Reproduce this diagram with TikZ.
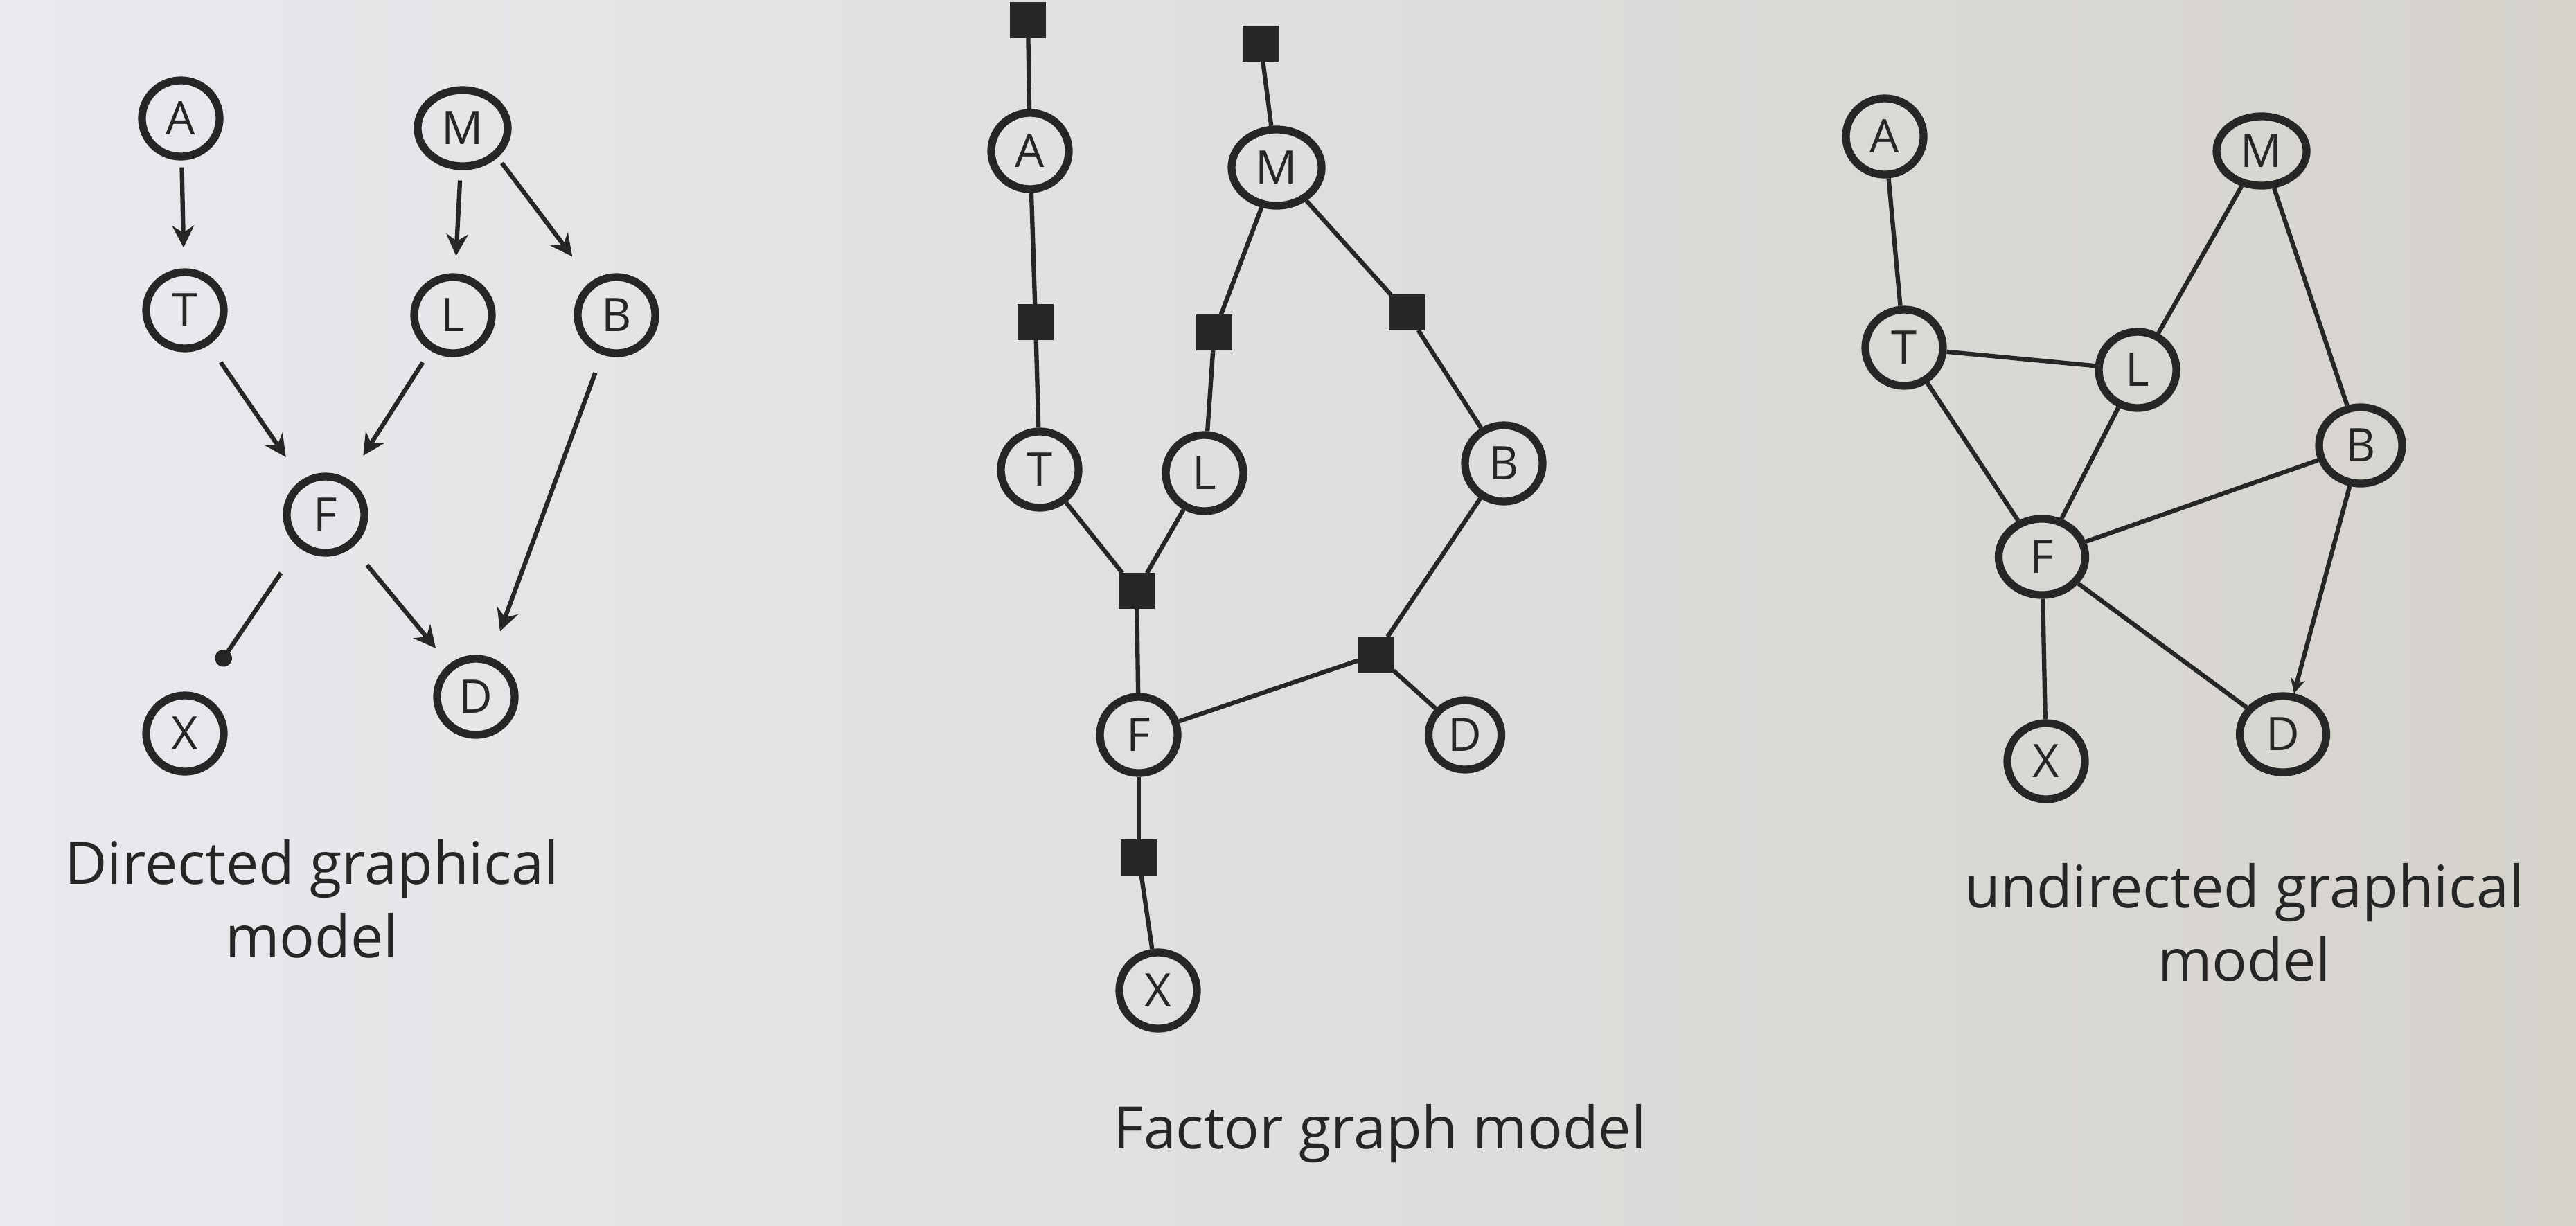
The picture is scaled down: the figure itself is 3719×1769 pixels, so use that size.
\documentclass[tikz,border=0pt]{standalone}
\usepackage{fontspec}
\setmainfont{Open Sans}
\usetikzlibrary{arrows.meta,shapes.geometric}
\definecolor{ink}{HTML}{262626}
\definecolor{paperL}{HTML}{E8EAEE}
\definecolor{paperR}{HTML}{D6D3CD}
\begin{document}
\begin{tikzpicture}[x=0.01cm,y=-0.01cm,
  var/.style={ellipse, draw=ink, line width=3.2pt, minimum width=1.12cm, minimum height=1.1cm, inner sep=0pt, font=\fontsize{19}{19}\selectfont, text=ink},
  fac/.style={rectangle, fill=ink, draw=ink, minimum size=0.5cm, inner sep=0pt},
  edge/.style={draw=ink, line width=1.8pt},
  arr/.style={edge, -{Stealth[length=9pt,width=9pt]}},
  lab/.style={font=\fontsize{24}{30}\selectfont, text=ink, align=center}]
\shade[left color=paperL, right color=paperR] (0,0) rectangle (3719,1769);
\useasboundingbox (0,0) rectangle (3719,1769);

% ---------- directed graphical model ----------
\node[var] (dA) at (261,171) {A};
\node[var, minimum width=1.3cm] (dM) at (668,185) {M};
\node[var] (dT) at (267,448) {T};
\node[var] (dL) at (654,455) {L};
\node[var] (dB) at (890,455) {B};
\node[var] (dF) at (470,743) {F};
\node[var] (dX) at (267,1059) {X};
\node[var] (dD) at (687,1006) {D};
\draw[arr, shorten <=0.1cm, shorten >=0.3cm] (dA) -- (dT);
\draw[arr, shorten <=0.15cm, shorten >=0.25cm] (dM) -- (dL);
\draw[arr, shorten <=0.1cm, shorten >=0.45cm] (dM.-40) -- (dB);
\draw[arr, shorten <=0.3cm, shorten >=0.4cm] (dT) -- (dF);
\draw[arr, shorten <=0.2cm, shorten >=0.4cm] (dL) -- (dF);
\draw[arr, shorten <=0.28cm, shorten >=0.4cm] (dB) -- (dD);
\draw[edge, -{Circle[length=7pt]}, shorten <=0.45cm, shorten >=0.5cm] (dF.230) -- (dX.70);
\draw[arr, shorten <=0.33cm, shorten >=0.3cm] (dF) -- (dD);
\node[lab] (labD) at (450,1298) {Directed graphical\\model};

% ---------- factor graph model ----------
\node[fac] (fA0) at (1484,29) {};
\node[var] (mA) at (1487,218) {A};
\node[fac] (fM0) at (1820,63) {};
\node[var, minimum width=1.3cm] (mM) at (1843,242) {M};
\node[fac] (fAT) at (1495,465) {};
\node[fac] (fML) at (1753,480) {};
\node[fac] (fMB) at (2031,451) {};
\node[var] (mT) at (1501,678) {T};
\node[var] (mL) at (1739,683) {L};
\node[var] (mB) at (2171,669) {B};
\node[fac] (fTLF) at (1641,853) {};
\node[fac] (fFBD) at (1986,945) {};
\node[var] (mF) at (1644,1061) {F};
\node[var, minimum width=1.05cm, minimum height=1.0cm] (mD) at (2115,1061) {D};
\node[fac] (fFX) at (1644,1238) {};
\node[var] (mX) at (1672,1430) {X};
\draw[edge] (fA0) -- (mA);
\draw[edge] (mA) -- (fAT);
\draw[edge] (fAT) -- (mT);
\draw[edge] (fM0) -- (mM);
\draw[edge] (mM) -- (fML);
\draw[edge] (fML) -- (mL);
\draw[edge] (mM) -- (fMB);
\draw[edge] (fMB) -- (mB);
\draw[edge] (mT) -- (fTLF);
\draw[edge] (mL) -- (fTLF);
\draw[edge] (fTLF) -- (mF);
\draw[edge] (mF) -- (fFBD);
\draw[edge] (mB) -- (fFBD);
\draw[edge] (fFBD) -- (mD);
\draw[edge] (mF) -- (fFX);
\draw[edge] (fFX) -- (mX);
\node[lab] (labF) at (1992,1637) {Factor graph model};

% ---------- undirected graphical model ----------
\node[var] (uA) at (2721,197) {A};
\node[var, minimum width=1.3cm, minimum height=1.0cm] (uM) at (3265,218) {M};
\node[var] (uT) at (2749,502) {T};
\node[var] (uL) at (3086,534) {L};
\node[var, minimum width=1.2cm] (uB) at (3408,643) {B};
\node[var, minimum width=1.25cm] (uF) at (2948,804) {F};
\node[var] (uX) at (2954,1099) {X};
\node[var, minimum width=1.25cm] (uD) at (3296,1060) {D};
\draw[edge] (uA) -- (uT);
\draw[edge] (uM) -- (uL);
\draw[edge] (uM) -- (uB);
\draw[edge] (uT) -- (uL);
\draw[edge] (uT) -- (uF);
\draw[edge] (uL) -- (uF);
\draw[edge] (uF) -- (uB);
\draw[edge] (uF) -- (uD);
\draw[edge, -{Stealth[length=6pt,width=6pt]}] (uB) -- (uD);
\draw[edge] (uF) -- (uX);
\node[lab] (labU) at (3240,1332) {undirected graphical\\model};
\end{tikzpicture}
\end{document}
